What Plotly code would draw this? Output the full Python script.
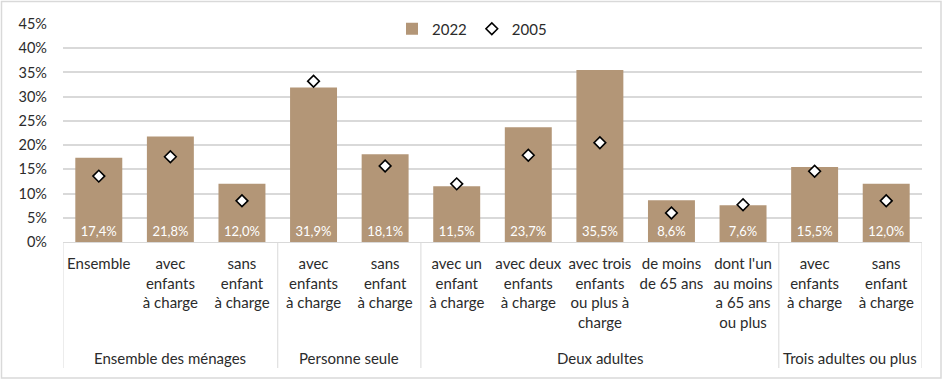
import plotly.graph_objects as go

# ---- data ----
sub_labels = [
    "Ensemble",
    "avec<br>enfants<br>à charge",
    "sans<br>enfant<br>à charge",
    "avec<br>enfants<br>à charge",
    "sans<br>enfant<br>à charge",
    "avec un<br>enfant<br>à charge",
    "avec deux<br>enfants<br>à charge",
    "avec trois<br>enfants<br>ou plus à<br>charge",
    "de moins<br>de 65 ans",
    "dont l'un<br>au moins<br>a 65 ans<br>ou plus",
    "avec<br>enfants<br>à charge",
    "sans<br>enfant<br>à charge",
]
groups = ["Ensemble des ménages", "Personne seule", "Deux adultes", "Trois adultes ou plus"]
group_sizes = [3, 2, 5, 2]
values_2022 = [17.4, 21.8, 12.0, 31.9, 18.1, 11.5, 23.7, 35.5, 8.6, 7.6, 15.5, 12.0]
values_2005 = [13.6, 17.6, 8.5, 33.2, 15.7, 12.0, 17.9, 20.5, 6.0, 7.7, 14.6, 8.5]
y_ticks = [0, 5, 10, 15, 20, 25, 30, 35, 40, 45]
y_tick_labels = ["0%", "5%", "10%", "15%", "20%", "25%", "30%", "35%", "40%", "45%"]

# ---- layout constants ----
W, H = 945, 380
ML, MR, MT, MB = 63, 23, 24, 138
PW, PH = W - ML - MR, H - MT - MB
FONT = "Lato"
TXT = "#2b2b2b"
GRID = "#D9D9D9"
BAR = "#B39677"

def px_x(p):
    return (p - ML) / PW

def px_y(p):
    return (H - MB - p) / PH

xs = list(range(len(values_2022)))

fig = go.Figure()
fig.add_trace(go.Bar(
    x=xs, y=values_2022, name="2022",
    marker=dict(color=BAR, line=dict(width=0)),
    text=[f"{v:.1f}%".replace(".", ",") for v in values_2022],
    textposition="inside", insidetextanchor="start", textangle=0,
    constraintext="none",
    textfont=dict(color="white", size=13, family=FONT),
))
fig.add_trace(go.Scatter(
    x=xs, y=values_2005, name="2005", mode="markers",
    marker=dict(symbol="diamond", size=9, color="white",
                line=dict(color="black", width=1.6)),
))

shapes = []
bounds = [-0.5]
for s in group_sizes:
    bounds.append(bounds[-1] + s)
for b in bounds:
    shapes.append(dict(type="line", xref="x", yref="paper", x0=b, x1=b,
                       y0=0, y1=px_y(368), line=dict(color=GRID, width=1)))
shapes.append(dict(type="rect", xref="paper", yref="paper",
                   x0=px_x(1.5), x1=px_x(941), y0=px_y(378), y1=px_y(1.5),
                   line=dict(color=GRID, width=1.5), fillcolor="rgba(0,0,0,0)", layer="below"))

annotations = []
for g, a, b in zip(groups, bounds[:-1], bounds[1:]):
    annotations.append(dict(text=g, xref="x", yref="paper", x=(a + b) / 2, y=px_y(358),
                            showarrow=False, xanchor="center", yanchor="middle",
                            font=dict(family=FONT, size=15, color=TXT)))

fig.update_layout(
    width=W, height=H,
    margin=dict(l=ML, r=MR, t=MT, b=MB, pad=0, autoexpand=False),
    paper_bgcolor="white", plot_bgcolor="white",
    font=dict(family=FONT, size=15, color=TXT),
    bargap=0.344,
    showlegend=True,
    legend=dict(orientation="h", x=px_x(472), xanchor="center", y=px_y(29), yanchor="middle",
                bgcolor="white", font=dict(family=FONT, size=15, color=TXT),
                itemwidth=30, traceorder="normal"),
    xaxis=dict(range=[-0.5, 11.5], tickvals=xs, ticktext=sub_labels, automargin=False,
               showgrid=False, zeroline=False, showline=True, linecolor=GRID, linewidth=1,
               ticks="", ticklabelstandoff=8, tickangle=0,
               tickfont=dict(family=FONT, size=15, color=TXT), fixedrange=True),
    yaxis=dict(range=[0, 45], tickmode="array", tickvals=y_ticks, ticktext=y_tick_labels,
               automargin=False,
               showgrid=True, gridcolor=GRID, gridwidth=1.5, zeroline=False,
               showline=False, ticks="", ticklabelstandoff=15,
               tickfont=dict(family=FONT, size=14.5, color=TXT), fixedrange=True),
    shapes=shapes, annotations=annotations,
    hovermode=False,
)

fig.write_html("out.html", config={"displayModeBar": False},
               post_script="document.body.style.margin='0';document.body.style.padding='0';")
